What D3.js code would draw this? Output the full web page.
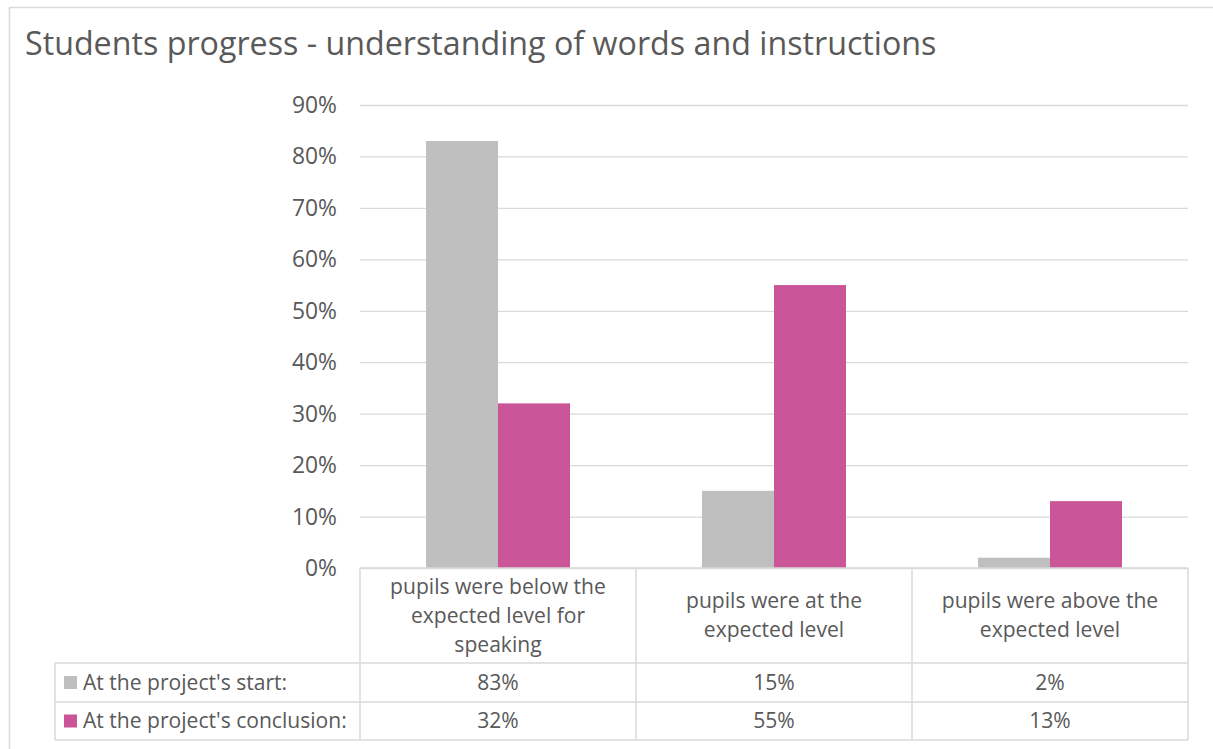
<!DOCTYPE html>
<html><head><meta charset="utf-8">
<script src="https://cdn.jsdelivr.net/npm/d3@7"></script>
<style>body{margin:0;background:#fff;} text{font-family:"Open Sans",sans-serif;fill:#595959;}</style>
</head><body>
<svg id="c" width="1213" height="749"></svg>
<script>
const title = "Students progress - understanding of words and instructions";
const categories = [
  ["pupils were below the","expected level for","speaking"],
  ["pupils were at the","expected level"],
  ["pupils were above the","expected level"]
];
const seriesNames = ["At the project's start:", "At the project's conclusion:"];
const startValues = [83, 15, 2];
const conclusionValues = [32, 55, 13];
const yTicks = [0,10,20,30,40,50,60,70,80,90];
const colors = ["#BFBFBF", "#CB5599"];

(function(){
const svg = d3.select("#c");
const grid = "#D9D9D9";

svg.append("rect").attr("x",9.5).attr("y",7.5).attr("width",1220).attr("height",760)
  .attr("fill","none").attr("stroke",grid).attr("stroke-width",1.5);

function fit(sel, target){
  const w = sel.node().getComputedTextLength();
  const fs = parseFloat(sel.attr("font-size"));
  sel.attr("font-size", fs*target/w);
  return fs*target/w;
}

const t = svg.append("text").attr("x",25).attr("y",55).attr("font-size",30).text(title);
fit(t, 912);

const pl = 360, pr = 1188, pt = 105, pb = 568;
const x = d3.scaleBand().domain(d3.range(categories.length)).range([pl,pr]).paddingInner(0).paddingOuter(0);
const x1 = d3.scaleBand().domain([0,1]).range([0, x.bandwidth()]).paddingInner(0).paddingOuter(0.9167);
const y = d3.scaleLinear().domain([0,90]).range([pb, pt]);

svg.append("g").selectAll("line").data(yTicks).join("line")
  .attr("x1",pl).attr("x2",pr).attr("y1",d=>y(d)+0.5).attr("y2",d=>y(d)+0.5)
  .attr("stroke",grid).attr("stroke-width",1.3);

const yl = svg.append("g").selectAll("text").data(yTicks).join("text")
  .attr("x",337).attr("y",d=>y(d)).attr("dy","0.35em").attr("text-anchor","end")
  .attr("font-size",17).text(d=>d+"%");
{
  const n = yl.filter(d=>d===90);
  const fs = fit(n, 45);
  yl.attr("font-size", fs);
}

const series = [startValues, conclusionValues];
series.forEach((vals, si) => {
  svg.append("g").selectAll("rect").data(vals).join("rect")
    .attr("x",(d,i)=>x(i)+x1(si)).attr("width",x1.bandwidth())
    .attr("y",d=>y(d)).attr("height",d=>pb-y(d)).attr("fill",colors[si]);
});

const tbl = svg.append("g");
const rowH = [pb, 663, 702, 740];
const tableLeft = 55;
function line(a,b,c,d){ tbl.append("line").attr("x1",a).attr("y1",b).attr("x2",c).attr("y2",d).attr("stroke",grid).attr("stroke-width",1.5); }
line(pl, pb, pr, pb);
line(tableLeft, 663, pr, 663);
line(tableLeft, 702, pr, 702);
line(tableLeft, 740, pr, 740);
const cols = categories.map((c,i)=>x(i)).concat([pr]);
cols.forEach(cx => line(cx, pb, cx, 740));
line(tableLeft, 663, tableLeft, 740);

let catFs = 17;
categories.forEach((lines, i) => {
  const n = lines.length;
  const cy = (pb + 663)/2;
  const lh = 29;
  lines.forEach((s, j) => {
    const tt = tbl.append("text").attr("x", x(i)+x.bandwidth()/2)
      .attr("y", cy + (j - (n-1)/2)*lh).attr("dy","0.35em").attr("text-anchor","middle")
      .attr("font-size",catFs).text(s);
    if(i===0 && j===0){ catFs = fit(tt, 216); }
    else tt.attr("font-size", catFs);
  });
});

series.forEach((vals, si) => {
  const cy = (rowH[si+1] + rowH[si+2])/2;
  tbl.append("rect").attr("x",64).attr("y",cy-6.5).attr("width",13).attr("height",13).attr("fill",colors[si]);
  tbl.append("text").attr("x",83).attr("y",cy).attr("dy","0.35em").attr("font-size",catFs).text(seriesNames[si]);
  tbl.append("g").selectAll("text").data(vals).join("text")
    .attr("x",(d,i)=>x(i)+x.bandwidth()/2).attr("y",cy).attr("dy","0.35em")
    .attr("text-anchor","middle").attr("font-size",catFs).text(d=>d+"%");
});
})();
</script>
</body></html>
